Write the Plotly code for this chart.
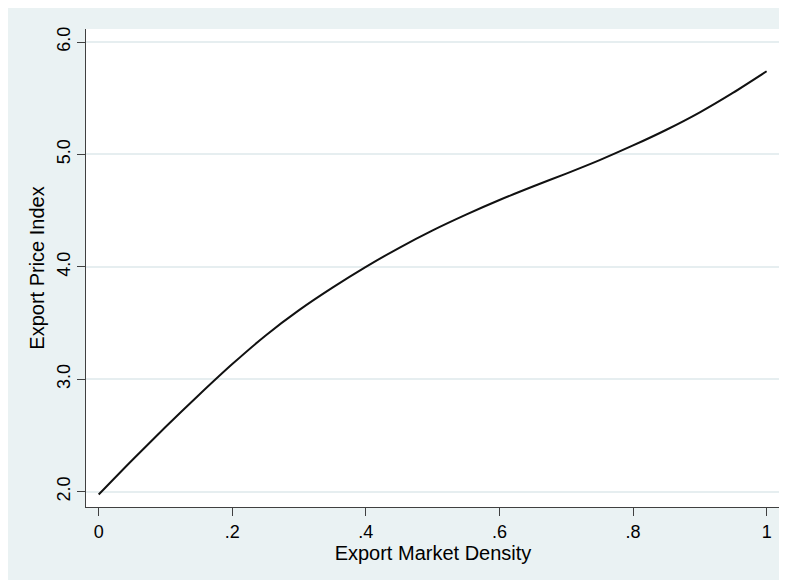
import plotly.graph_objects as go

density = [0.00, 0.05, 0.10, 0.15, 0.20, 0.25, 0.30, 0.35, 0.40, 0.45, 0.50,
           0.55, 0.60, 0.65, 0.70, 0.75, 0.80, 0.85, 0.90, 0.95, 1.00]
price_index = [1.975, 2.28, 2.575, 2.86, 3.135, 3.39, 3.615, 3.815, 4.00, 4.17, 4.325,
               4.465, 4.595, 4.715, 4.83, 4.95, 5.08, 5.22, 5.375, 5.55, 5.74]

x_tickvals = [0, 0.2, 0.4, 0.6, 0.8, 1.0]
x_ticktext = ["0", ".2", ".4", ".6", ".8", "1"]
y_tickvals = [2, 3, 4, 5, 6]
y_ticktext = ["2.0", "3.0", "4.0", "5.0", "6.0"]

BG = "#EAF2F3"
AXIS = "#404040"
FONT = "Liberation Sans, Arial, sans-serif"

fig = go.Figure()
fig.add_trace(go.Scatter(x=density, y=price_index, mode="lines",
                         line=dict(color="#111111", width=2, shape="spline", smoothing=0.8),
                         hoverinfo="skip", showlegend=False))

fig.update_layout(
    width=787, height=580,
    margin=dict(l=78, r=15, t=21, b=81),
    paper_bgcolor=BG,
    plot_bgcolor="white",
    font=dict(family=FONT, color="black", size=18),
    xaxis=dict(
        range=[-0.019, 1.02], tickvals=x_tickvals, ticktext=x_ticktext,
        showgrid=False, zeroline=False, showline=True, linecolor=AXIS, linewidth=1.2,
        ticks="outside", ticklen=8, tickwidth=1.2, tickcolor=AXIS,
        tickfont=dict(size=18, family=FONT),
        title=dict(text="Export Market Density", font=dict(size=20, family=FONT), standoff=1),
        automargin=False,
    ),
    yaxis=dict(
        range=[1.864, 6.116], tickvals=y_tickvals, ticktext=y_ticktext,
        showgrid=True, gridcolor="#E6EEF0", gridwidth=2,
        zeroline=False, showline=True, linecolor=AXIS, linewidth=1.2,
        ticks="outside", ticklen=8, tickwidth=1.2, tickcolor=AXIS,
        tickangle=-90, tickfont=dict(size=18, family=FONT),
        title=dict(text="Export Price Index", font=dict(size=20, family=FONT), standoff=3),
        automargin=False,
    ),
)

fig.write_html("out.html")
